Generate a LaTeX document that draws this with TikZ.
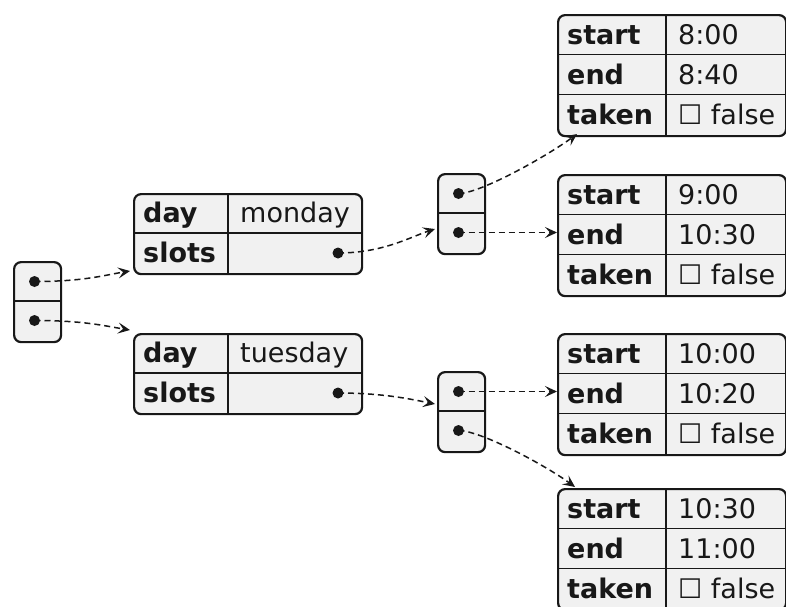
\documentclass[tikz,border=0pt]{standalone}
\usepackage{fontspec}
\setmainfont{DejaVu Sans}
\usetikzlibrary{arrows.meta,calc}
\definecolor{cellfill}{HTML}{F1F1F1}
\definecolor{ink}{HTML}{181818}

\tikzset{
  box/.style={draw=ink, fill=cellfill, line width=2.2pt, rounded corners=7pt,
    inner sep=0pt, anchor=north west},
  rule/.style={draw=ink, line width=1.4pt},
  keytxt/.style={anchor=base west, inner sep=0pt,
    font=\fontsize{27}{31}\selectfont\bfseries, text=ink},
  valtxt/.style={anchor=base west, inner sep=0pt,
    font=\fontsize{27}{31}\selectfont, text=ink},
  dot/.style={circle, fill=ink, minimum size=11pt, inner sep=0pt},
  conn/.style={draw=ink, line width=1.5pt, dash pattern=on 6pt off 4pt,
    -{Stealth[length=12pt,width=11pt,inset=5pt]}},
}

% slot record: name, top, start, end
\newcommand\slotbox[4]{%
  \node[box, minimum width=228pt, minimum height=121pt] (#1) at (557,#2) {};
  \draw[rule] (666,#2) -- (666,{#2+121});
  \draw[rule] (557,{#2+40.33}) -- (785,{#2+40.33});
  \draw[rule] (557,{#2+80.67}) -- (785,{#2+80.67});
  \node[keytxt] (#1-k1) at (567,{#2+30}) {start};
  \node[keytxt] (#1-k2) at (567,{#2+70.3}) {end};
  \node[keytxt] (#1-k3) at (567,{#2+110.6}) {taken};
  \node[valtxt] (#1-v1) at (678,{#2+30}) {#3};
  \node[valtxt] (#1-v2) at (678,{#2+70.3}) {#4};
  \node[valtxt] (#1-v3) at (678,{#2+110.6}) {☐ false};
}

% day record: name, top, day
\newcommand\daybox[3]{%
  \node[box, minimum width=228pt, minimum height=80pt] (#1) at (133,#2) {};
  \draw[rule] (228,#2) -- (228,{#2+80});
  \draw[rule] (133,{#2+40}) -- (361,{#2+40});
  \node[keytxt] (#1-k1) at (143,{#2+29.5}) {day};
  \node[keytxt] (#1-k2) at (143,{#2+69.5}) {slots};
  \node[valtxt] (#1-v1) at (240,{#2+29.5}) {#3};
  \node[dot] (#1-dot) at (338,{#2+60}) {};
}

% two-element array: name, left, top
\newcommand\arrbox[3]{%
  \node[box, minimum width=47pt, minimum height=80pt] (#1) at (#2,#3) {};
  \draw[rule] (#2,{#3+40}) -- ({#2+47},{#3+40});
  \node[dot] (#1-d1) at ({#2+21.5},{#3+20.5}) {};
  \node[dot] (#1-d2) at ({#2+21.5},{#3+59.5}) {};
}

\begin{document}
\begin{tikzpicture}[x=1pt,y=-1pt]
  \useasboundingbox (0,0) rectangle (786,606);

  \arrbox{root}{13}{261}
  \daybox{mon}{193}{monday}
  \daybox{tue}{333}{tuesday}
  \arrbox{marr}{437}{173}
  \arrbox{tarr}{437}{371}
  \slotbox{s1}{14}{8:00}{8:40}
  \slotbox{s2}{174}{9:00}{10:30}
  \slotbox{s3}{333}{10:00}{10:20}
  \slotbox{s4}{488}{10:30}{11:00}

  % arrow landing points
  \coordinate (t-mon) at (130,271);
  \coordinate (t-tue) at (130,330);
  \coordinate (t-marr) at (435,229);
  \coordinate (t-tarr) at (435,404);
  \coordinate (t-s1) at (577,134);
  \coordinate (t-s4) at (575,487);

  \draw[conn] (root-d1.center) .. controls +(50,0) and +(-25,4) .. (t-mon);
  \draw[conn] (root-d2.center) .. controls +(50,0) and +(-25,-4) .. (t-tue);
  \draw[conn] (mon-dot.center) .. controls +(45,0) and +(-25,8) .. (t-marr);
  \draw[conn] (tue-dot.center) .. controls +(45,0) and +(-25,-5) .. (t-tarr);
  \draw[conn] (marr-d1.center) .. controls +(22,0) and +(-30,22) .. (t-s1);
  \draw[conn] (marr-d2.center) -- (marr-d2 -| s2.west);
  \draw[conn] (tarr-d1.center) -- (tarr-d1 -| s3.west);
  \draw[conn] (tarr-d2.center) .. controls +(22,0) and +(-30,-22) .. (t-s4);
\end{tikzpicture}
\end{document}
